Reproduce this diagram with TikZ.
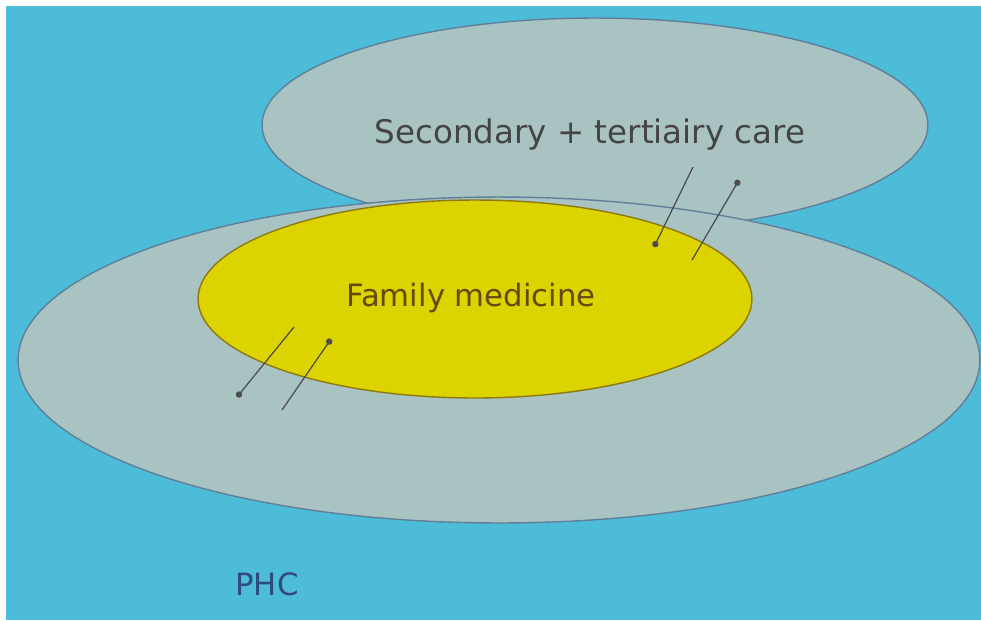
\documentclass[tikz,border=0pt]{standalone}
\usepackage{fontspec}
\setmainfont{DejaVu Sans}
\usetikzlibrary{shapes.geometric,arrows.meta}

\definecolor{slideblue}{HTML}{4DBCD8}
\definecolor{zonegray}{HTML}{A9C3C2}
\definecolor{zoneedge}{HTML}{5F7F9B}
\definecolor{fmyellow}{HTML}{DCD300}
\definecolor{fmedge}{HTML}{8C7A10}
\definecolor{secgray}{HTML}{444444}
\definecolor{fmbrown}{HTML}{6A470C}
\definecolor{phcblue}{HTML}{2F4B7C}

\def \flowdata {693/167/654/247,692/260/739/180,294/327/237/397,282/410/331/339}

\begin{document}
\begin{tikzpicture}
   [x=0.02cm, y=-0.02cm,
   zone/.style={ellipse, draw=zoneedge, line width=0.8pt, fill=zonegray, inner sep=0pt},
   core/.style={ellipse, draw=fmedge, line width=0.8pt, fill=fmyellow, inner sep=0pt},
   caption/.style={draw=none, fill=none, font=\fontsize{17.5}{20}\selectfont},
   flow/.style={draw=black!70, line width=0.7pt, -{Circle[length=3.6pt]}}]{
\useasboundingbox (0,0) rectangle (981,620);
\fill[white] (0,0) rectangle (981,620);
\fill[slideblue] (6,6) rectangle (981,620);

\node[zone, minimum width=13.32cm, minimum height=4.28cm] (secondary) at (595,125) {};
\node[zone, minimum width=19.24cm, minimum height=6.52cm] (phc) at (499,360) {};
\node[core, minimum width=11.08cm, minimum height=3.96cm] (family) at (475,299) {};

\node[caption, text=secgray, font=\fontsize{18.5}{21}\selectfont] (secondarytext) at (590,135) {Secondary + tertiairy care};
\node[caption, text=fmbrown] (familytext) at (471,298) {Family medicine};
\node[caption, text=phcblue] (phctext) at (267,584) {PHC};

\foreach \xa / \ya / \xb / \yb [count=\i] in \flowdata {
   \coordinate (from\i) at (\xa,\ya);
   \coordinate (to\i) at (\xb,\yb);
   \draw[flow] (from\i) -- (to\i);}
};
\end{tikzpicture}
\end{document}
